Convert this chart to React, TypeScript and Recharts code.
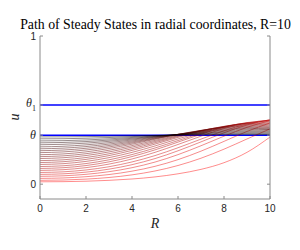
import React from 'react';
import { LineChart, Line, XAxis, YAxis, ReferenceLine } from 'recharts';

const radii = [0, 1, 2, 3, 4, 5, 6, 7, 8, 9, 10];
const xTicks = [0, 2, 4, 6, 8, 10];
const theta = 0.331;
const theta1 = 0.534;
const yTicks = [0, theta, theta1, 1];

const c00 = [0.016, 0.017, 0.020, 0.026, 0.035, 0.049, 0.070, 0.100, 0.145, 0.215, 0.318];
const c01 = [0.026, 0.0281, 0.0342, 0.0451, 0.0629, 0.0890, 0.1260, 0.1753, 0.2363, 0.3052, 0.3732];
const c02 = [0.039, 0.0420, 0.0505, 0.0651, 0.0878, 0.1205, 0.1657, 0.2229, 0.2889, 0.3560, 0.4136];
const c03 = [0.053, 0.0564, 0.0666, 0.0843, 0.1113, 0.1492, 0.1994, 0.2594, 0.3238, 0.3838, 0.4292];
const c04 = [0.066, 0.0698, 0.0813, 0.1014, 0.1316, 0.1727, 0.2253, 0.2856, 0.3468, 0.3998, 0.4352];
const c05 = [0.079, 0.0832, 0.0959, 0.1178, 0.1501, 0.1930, 0.2459, 0.3041, 0.3605, 0.4064, 0.4336];
const c06 = [0.093, 0.0977, 0.1116, 0.1355, 0.1700, 0.2148, 0.2680, 0.3240, 0.3754, 0.4135, 0.4319];
const c07 = [0.106, 0.1110, 0.1257, 0.1507, 0.1863, 0.2316, 0.2839, 0.3371, 0.3838, 0.4159, 0.4281];
const c08 = [0.119, 0.1241, 0.1392, 0.1645, 0.1999, 0.2442, 0.2943, 0.3439, 0.3860, 0.4135, 0.4218];
const c09 = [0.133, 0.1383, 0.1537, 0.1792, 0.2146, 0.2579, 0.3054, 0.3512, 0.3883, 0.4108, 0.4150];
const c10 = [0.146, 0.1515, 0.1672, 0.1930, 0.2282, 0.2706, 0.3158, 0.3579, 0.3904, 0.4083, 0.4086];
const c11 = [0.159, 0.1644, 0.1799, 0.2052, 0.2393, 0.2797, 0.3221, 0.3606, 0.3894, 0.4040, 0.4021];
const c12 = [0.173, 0.1783, 0.1933, 0.2177, 0.2501, 0.2879, 0.3269, 0.3616, 0.3867, 0.3985, 0.3949];
const c13 = [0.186, 0.1911, 0.2057, 0.2292, 0.2600, 0.2955, 0.3314, 0.3625, 0.3843, 0.3935, 0.3883];
const c14 = [0.199, 0.2040, 0.2181, 0.2408, 0.2700, 0.3030, 0.3359, 0.3634, 0.3818, 0.3884, 0.3816];
const c15 = [0.213, 0.2177, 0.2307, 0.2513, 0.2777, 0.3071, 0.3362, 0.3605, 0.3766, 0.3825, 0.3769];
const c16 = [0.226, 0.2304, 0.2422, 0.2610, 0.2845, 0.3106, 0.3362, 0.3576, 0.3716, 0.3769, 0.3727];
const c17 = [0.239, 0.2431, 0.2538, 0.2706, 0.2914, 0.3141, 0.3362, 0.3546, 0.3666, 0.3714, 0.3685];
const c18 = [0.252, 0.2557, 0.2653, 0.2801, 0.2981, 0.3174, 0.3361, 0.3516, 0.3616, 0.3658, 0.3641];
const c19 = [0.266, 0.2690, 0.2768, 0.2891, 0.3041, 0.3200, 0.3354, 0.3481, 0.3561, 0.3594, 0.3576];
const c20 = [0.279, 0.2814, 0.2876, 0.2975, 0.3097, 0.3225, 0.3347, 0.3448, 0.3509, 0.3535, 0.3517];
const c21 = [0.292, 0.2937, 0.2984, 0.3059, 0.3153, 0.3250, 0.3340, 0.3415, 0.3458, 0.3475, 0.3457];
const c22 = [0.306, 0.3069, 0.3099, 0.3149, 0.3211, 0.3274, 0.3331, 0.3379, 0.3404, 0.3414, 0.3399];
const c23 = [0.319, 0.3194, 0.3209, 0.3232, 0.3262, 0.3292, 0.3320, 0.3343, 0.3355, 0.3360, 0.3353];

const curves = [c00, c01, c02, c03, c04, c05, c06, c07, c08, c09, c10, c11,
  c12, c13, c14, c15, c16, c17, c18, c19, c20, c21, c22, c23];

const rows = radii.map((r, j) => {
  const row: Record<string, number> = { R: r };
  curves.forEach((c, i) => { row['c' + i] = c[j]; });
  return row;
});

const AXIS = '#8a8a8a';
const TXT = '#262626';
const SANS = 'Liberation Sans, Arial, sans-serif';
const SERIF = 'Liberation Serif, Times New Roman, serif';

const BottomTick = (p: any) => (
  <g>
    <line x1={p.x} y1={p.y} x2={p.x} y2={p.y - 3} stroke={AXIS} />
    <text x={p.x} y={p.y + 13} textAnchor="middle" fontSize={10} fill={TXT} fontFamily={SANS}>
      {p.payload.value}
    </text>
  </g>
);
const TopTick = (p: any) => (
  <line x1={p.x} y1={p.y} x2={p.x} y2={p.y + 3} stroke={AXIS} />
);
const LeftTick = (p: any) => {
  const v = p.payload.value;
  let label: any;
  if (v === theta) {
    label = <text x={p.x - 4} y={p.y + 4} textAnchor="end" fontSize={12} fill={TXT} fontFamily={SERIF} fontStyle="italic">θ</text>;
  } else if (v === theta1) {
    label = (
      <text x={p.x - 4} y={p.y + 2} textAnchor="end" fill={TXT} fontFamily={SERIF}>
        <tspan fontSize={12} fontStyle="italic">θ</tspan>
        <tspan fontSize={8} dy={4}>1</tspan>
      </text>
    );
  } else {
    label = <text x={p.x - 4} y={p.y + 3.5} textAnchor="end" fontSize={10} fill={TXT} fontFamily={SANS}>{v}</text>;
  }
  return (
    <g>
      <line x1={p.x} y1={p.y} x2={p.x + 3} y2={p.y} stroke={AXIS} />
      {label}
    </g>
  );
};
const RightTick = (p: any) => (
  <line x1={p.x} y1={p.y} x2={p.x - 3} y2={p.y} stroke={AXIS} />
);

const colorFor = (i: number) => {
  const t = i / (curves.length - 1);
  return `rgb(${Math.round(255 * (1 - t))},0,0)`;
};

export default function App() {
  return (
    <div style={{ position: 'absolute', left: 0, top: 0, width: 300, height: 250, background: '#fff' }}>
      <LineChart width={300} height={250} data={rows} margin={{ top: 36, right: 0, bottom: 21, left: 0 }}>
        <XAxis xAxisId="b" dataKey="R" type="number" domain={[0, 10]} ticks={xTicks} interval={0}
          height={30} tickSize={0} tickMargin={0} axisLine={{ stroke: AXIS }} tickLine={false} tick={<BottomTick />} />
        <XAxis xAxisId="t" dataKey="R" type="number" orientation="top" domain={[0, 10]} ticks={xTicks} interval={0}
          height={0} tickSize={0} tickMargin={0} axisLine={{ stroke: AXIS }} tickLine={false} tick={<TopTick />} />
        <YAxis yAxisId="l" type="number" domain={[-0.1, 1]} ticks={yTicks} interval={0} width={40}
          tickSize={0} tickMargin={0} axisLine={{ stroke: AXIS }} tickLine={false} tick={<LeftTick />} allowDataOverflow />
        <YAxis yAxisId="r" type="number" orientation="right" domain={[-0.1, 1]} ticks={yTicks} interval={0} width={30}
          tickSize={0} tickMargin={0} axisLine={{ stroke: AXIS }} tickLine={false} tick={<RightTick />} allowDataOverflow />
        <ReferenceLine xAxisId="b" yAxisId="l" y={theta1} stroke="#0000ff" strokeWidth={1.5} />
        <ReferenceLine xAxisId="b" yAxisId="l" y={theta} stroke="#0000ff" strokeWidth={1.5} />
        {curves.map((_, i) => (
          <Line key={i} xAxisId="b" yAxisId="l" dataKey={'c' + i} type="monotone" stroke={colorFor(i)}
            strokeOpacity={0.45} strokeWidth={1} dot={false} isAnimationActive={false} />
        ))}
      </LineChart>
      <svg width={300} height={250} style={{ position: 'absolute', left: 0, top: 0, pointerEvents: 'none' }}>
        <text x={155.5} y={29} textAnchor="middle" fontSize={13.8} fill="#000" fontFamily={SERIF}>
          Path of Steady States in radial coordinates, R=10
        </text>
        <text x={19} y={117} textAnchor="middle" fontSize={14} fill={TXT} fontFamily={SERIF} fontStyle="italic"
          transform="rotate(-90 19 117)">u</text>
        <text x={155} y={228} textAnchor="middle" fontSize={14} fill={TXT} fontFamily={SERIF} fontStyle="italic">R</text>
      </svg>
    </div>
  );
}
